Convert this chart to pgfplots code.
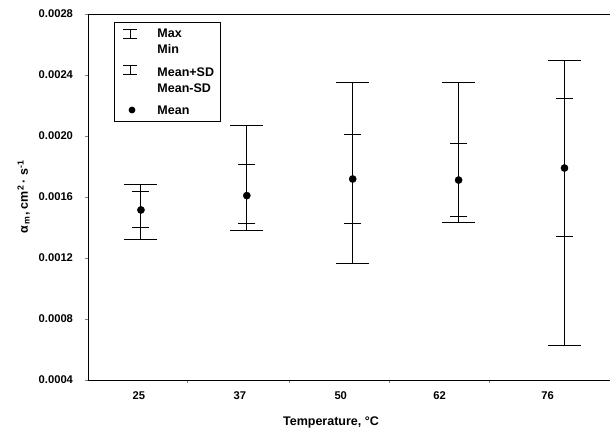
\documentclass[border=0pt]{standalone}
\usepackage{fontspec}
\setmainfont{Liberation Sans}
\usepackage{pgfplots}
\usepackage{pgfplotstable}
\pgfplotsset{compat=1.18}

% columns: position, mean, max, min, mean+SD, mean-SD
\pgfplotstableread{
x mean     max      min      sdp      sdm
0 0.001515 0.001685 0.001318 0.001633 0.001403
1 0.001609 0.002066 0.001379 0.001810 0.001423
2 0.001718 0.002352 0.001163 0.002007 0.001425
3 0.001711 0.002352 0.001431 0.001952 0.001471
4 0.001790 0.002494 0.000625 0.002246 0.001340
}\alphadata

\begin{document}
\begin{tikzpicture}
\begin{axis}[
    scale only axis,
    width=522pt, height=366pt,
    xmin=-0.5, xmax=4.43,
    ymin=0.0004, ymax=0.0028,
    axis x line*=bottom, axis y line*=left,
    axis line style={line width=0.8pt},
    xtick={-0.019,0.934,1.887,2.821,3.840},
    xticklabels={25,37,50,62,76},
    minor xtick={0.434,1.396,2.34,3.29},
    major x tick style={draw=none},
    minor tick length=3pt,
    ytick={0.0004,0.0008,...,0.00281},
    scaled y ticks=false,
    yticklabel style={/pgf/number format/fixed, /pgf/number format/fixed zerofill,
        /pgf/number format/precision=4, xshift=-9pt},
    /pgf/number format/assume math mode=true,
    tick align=outside, major tick length=2.5pt,
    tick label style={font=\fontsize{11.2}{13}\selectfont\bfseries},
    xticklabel style={yshift=-6pt},
    xlabel={Temperature, °C},
    ylabel={α\textsubscript{\,m}, cm\textsuperscript{2}\,· s\textsuperscript{-1}},
    label style={font=\fontsize{12.5}{15}\selectfont\bfseries},
    xlabel style={yshift=-10pt, xshift=-18pt},
    ylabel style={yshift=2pt},
    clip=false,
]
% Max / Min
\addplot[draw=none, mark=none, forget plot,
    error bars/.cd, y dir=both, y explicit,
    error bar style={line width=1pt},
    error mark options={line width=1pt, mark size=16.5pt, rotate=90}]
    table[x=x, y=mean,
          y error plus expr=\thisrow{max}-\thisrow{mean},
          y error minus expr=\thisrow{mean}-\thisrow{min}] {\alphadata};
% Mean +/- SD
\addplot[draw=none, mark=none, forget plot,
    error bars/.cd, y dir=both, y explicit,
    error bar style={line width=1pt},
    error mark options={line width=1pt, mark size=8.5pt, rotate=90}]
    table[x=x, y=mean,
          y error plus expr=\thisrow{sdp}-\thisrow{mean},
          y error minus expr=\thisrow{mean}-\thisrow{sdm}] {\alphadata};
% Mean
\addplot[only marks, mark=*, mark size=3.6pt, black]
    table[x=x, y=mean] {\alphadata};

\coordinate (tl) at (rel axis cs:0,1);
\coordinate (bl) at (rel axis cs:0,0);
\draw[line width=0.8pt] (rel axis cs:0,1) -- (rel axis cs:1,1);
\end{axis}

% legend, in pixel offsets from the top-left corner of the axis
\begin{scope}[shift={(tl)}, x=1pt, y=-1pt, line width=0.9pt,
    every node/.style={font=\fontsize{12.5}{15}\selectfont\bfseries, anchor=west, inner sep=0pt}]
  \draw (26,8) rectangle (132,107);
  \draw (35,15) -- (49,15) (35,24) -- (49,24) (42,15) -- (42,24);
  \draw (35,51) -- (49,51) (35,60) -- (49,60) (42,51) -- (42,60);
  \fill (44,96) circle (3.4);
  \node at (69,19) {Max};
  \node at (69,35) {Min};
  \node at (69,58) {Mean+SD};
  \node at (69,74) {Mean-SD};
  \node at (69,96) {Mean};
  \path (523,-14);
\end{scope}
\begin{scope}[shift={(bl)}, x=1pt, y=-1pt]
  \path (-88,52);
\end{scope}
\end{tikzpicture}
\end{document}
